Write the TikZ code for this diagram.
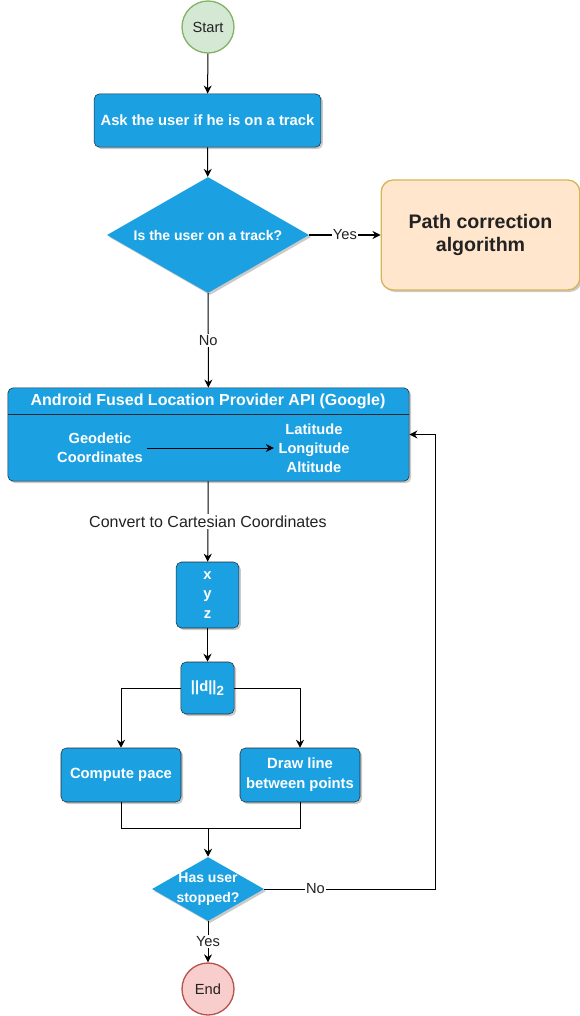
\documentclass[tikz,border=0pt]{standalone}
\usepackage{fontspec}
\setmainfont{Liberation Sans}
\setsansfont{Liberation Sans}
\usepackage{tikz}
\usetikzlibrary{arrows.meta,shapes.geometric,shadows}
\definecolor{Flow}{HTML}{1BA1E2}
\definecolor{FlowEdge}{HTML}{1E2A33}
\definecolor{StartFill}{HTML}{D5E8D4}
\definecolor{StartEdge}{HTML}{82B366}
\definecolor{EndFill}{HTML}{F8CECC}
\definecolor{EndEdge}{HTML}{B85450}
\definecolor{AlgoFill}{HTML}{FFE6CC}
\definecolor{AlgoEdge}{HTML}{D6B656}
\definecolor{Ink}{HTML}{222222}
\begin{document}
\begin{tikzpicture}[
  x=0.75pt,y=-0.75pt,
  every node/.style={font=\fontsize{11}{14.5}\selectfont,text=Ink},
  shadowed/.style={drop shadow={shadow xshift=1.5pt,shadow yshift=-1.5pt,opacity=0.35,fill=black!60}},
  termbox/.style={circle,line width=1pt,minimum size=39pt,inner sep=0pt},
  procbox/.style={draw=FlowEdge,fill=Flow,rounded corners=4pt,shadowed,text=white,align=center,
    font=\fontsize{11.1}{14.8}\selectfont\bfseries,inner sep=0pt},
  decbox/.style={diamond,fill=Flow,shadowed,text=white,align=center,inner sep=0pt,
    font=\fontsize{10.5}{15}\selectfont\bfseries},
  intext/.style={text=white,align=center,font=\fontsize{11}{14.3}\selectfont\bfseries},
  lbl/.style={fill=white,inner sep=1pt,font=\fontsize{11}{12}\selectfont},
  arr/.style={-{Stealth[length=6pt,width=6pt]},line width=0.75pt,color=black},
  ln/.style={line width=0.75pt,color=black}
]
\useasboundingbox (0,0) rectangle (580,1016);
\node[termbox,draw=StartEdge,fill=StartFill] (start) at (208,27) {Start};
\node[procbox,minimum width=170pt,minimum height=40pt] (ask) at (207.5,120.5) {Ask the user if he is on a track};
\node[decbox,minimum width=151.5pt,minimum height=87pt,shape aspect=1.74] (ontrack) at (208,235) {Is the user on a track?};
\node[draw=AlgoEdge,fill=AlgoFill,line width=1pt,rounded corners=9pt,shadowed,minimum width=149pt,minimum height=82.5pt,
  align=center,font=\fontsize{14.7}{17.5}\selectfont\bfseries] (algo) at (480.5,235) {Path correction\\algorithm};
\node[procbox,minimum width=301pt,minimum height=70pt] (api) at (208.5,434.5) {};
\node[intext,font=\fontsize{12}{14}\selectfont\bfseries] (title) at (208,401) {Android Fused Location Provider API (Google)};
\draw[FlowEdge,line width=0.75pt] (8,414) -- (409,414);
\node[intext] (geo) at (100,448) {Geodetic\\Coordinates};
\node[intext] (lla) at (314,448) {Latitude\\Longitude\\Altitude};
\node[procbox,minimum width=47pt,minimum height=49.5pt] (xyz) at (207.5,595) {x\\y\\z};
\node[procbox,minimum width=40pt,minimum height=39pt] (dist) at (207.5,688) {||d||\raisebox{-0.45ex}{\fontsize{10}{10}\selectfont 2}};
\node[procbox,minimum width=90pt,minimum height=40.5pt] (pace) at (121,775) {Compute pace};
\node[procbox,minimum width=90pt,minimum height=40.5pt] (drawl) at (300,775) {Draw line\\between points};
\node[decbox,minimum width=84pt,minimum height=48pt,shape aspect=1.75,inner sep=-7pt] (stop) at (208,889) {Has user\\stopped?};
\node[termbox,draw=EndEdge,fill=EndFill] (end) at (208,989) {End};
\coordinate (join) at (208,828);
\coordinate (turn) at (435,889);
\draw[arr] (start) -- (ask);
\draw[arr] (ask) -- (ontrack);
\draw[arr] (ontrack) -- node[lbl]{Yes} (algo);
\draw[arr] (ontrack) -- node[lbl]{No} (api);
\draw[arr] (geo.east) -- (lla.west |- geo.east);
\draw[arr] (api) -- node[lbl,font=\fontsize{12}{13}\selectfont]{Convert to Cartesian Coordinates} (xyz);
\draw[arr] (xyz) -- (dist);
\draw[arr] (dist.west) -| (pace.north);
\draw[arr] (dist.east) -| (drawl.north);
\draw[ln] (pace.south) |- (join) -| (drawl.south);
\draw[arr] (join) -- (stop.north);
\draw[arr] (stop.east) -- node[lbl,pos=0.3]{No} (turn) |- (api.east);
\draw[arr] (stop) -- node[lbl]{Yes} (end);
\end{tikzpicture}
\end{document}
